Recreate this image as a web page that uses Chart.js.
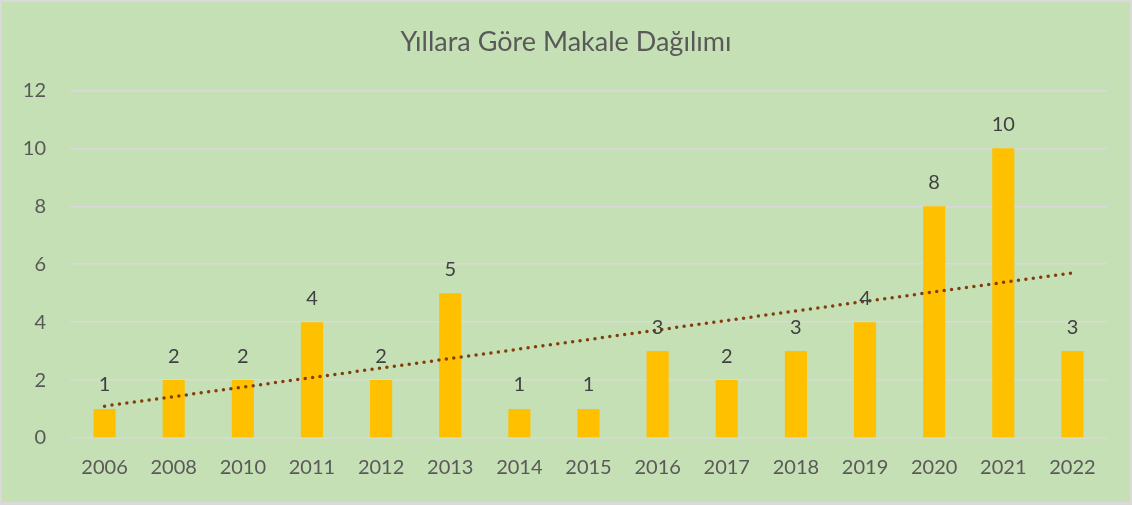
<!DOCTYPE html>
<html lang="tr">
<head>
    <meta charset="UTF-8">
    <title>Yıllara Göre Makale Dağılımı</title>
    <script src="https://cdn.jsdelivr.net/npm/chart.js"></script>
    <style>
        html, body { margin: 0; padding: 0; background: #ffffff; }
        .chart-box { position: relative; width: 1132px; height: 505px; }
    </style>
</head>
<body>
    <div class="chart-box">
        <canvas id="yearChart" width="1132" height="505"></canvas>
    </div>

    <script>
        // Data
        const years = ['2006', '2008', '2010', '2011', '2012', '2013', '2014', '2015', '2016', '2017', '2018', '2019', '2020', '2021', '2022'];
        const articleCounts = [1, 2, 2, 4, 2, 5, 1, 1, 3, 2, 3, 4, 8, 10, 3];
        // linear trend line: only its two ends
        const trendEnds = [1.1, null, null, null, null, null, null, null, null, null, null, null, null, null, 5.7];
        const yTicks = [0, 2, 4, 6, 8, 10, 12];

        const textGrey = '#595959';
        const fontName = 'Lato, "Open Sans", sans-serif';

        // green panel with thin grey frame
        const panelBackground = {
            id: 'panelBackground',
            beforeDraw(chart) {
                const ctx = chart.ctx;
                ctx.save();
                ctx.fillStyle = '#d9d9d9';
                ctx.fillRect(0, 0, chart.width, chart.height);
                ctx.fillStyle = '#c5e0b4';
                ctx.fillRect(2, 2, chart.width - 4, chart.height - 5);
                ctx.restore();
            }
        };

        // value labels above each bar
        const barLabels = {
            id: 'barLabels',
            afterDatasetsDraw(chart) {
                const ctx = chart.ctx;
                const meta = chart.getDatasetMeta(0);
                ctx.save();
                ctx.fillStyle = '#404040';
                ctx.font = '20px ' + fontName;
                ctx.textAlign = 'center';
                ctx.textBaseline = 'middle';
                meta.data.forEach((bar, i) => {
                    ctx.fillText(String(articleCounts[i]), bar.x, bar.y - 24);
                });
                ctx.restore();
            }
        };

        new Chart(document.getElementById('yearChart'), {
            data: {
                labels: years,
                datasets: [
                    {
                        type: 'bar',
                        label: 'Makale',
                        data: articleCounts,
                        backgroundColor: '#ffc000',
                        barPercentage: 0.32,
                        categoryPercentage: 1,
                        order: 2
                    },
                    {
                        type: 'line',
                        label: 'Trend',
                        data: trendEnds,
                        spanGaps: true,
                        borderColor: '#843c0c',
                        borderWidth: 3.5,
                        borderDash: [0, 7.5],
                        borderCapStyle: 'round',
                        pointRadius: 0,
                        fill: false,
                        order: 1
                    }
                ]
            },
            options: {
                responsive: false,
                animation: false,
                layout: { padding: 0 },
                plugins: {
                    legend: { display: false },
                    tooltip: { enabled: false },
                    title: {
                        display: true,
                        text: 'Yıllara Göre Makale Dağılımı',
                        color: textGrey,
                        font: { family: fontName, size: 27, weight: 'normal' },
                        padding: { top: 26, bottom: 32 }
                    }
                },
                scales: {
                    x: {
                        grid: { display: false },
                        border: { display: false },
                        ticks: {
                            color: textGrey,
                            font: { family: fontName, size: 20 },
                            padding: 10,
                            maxRotation: 0
                        },
                        afterFit(scale) { scale.height = 505 - 438; }
                    },
                    y: {
                        min: 0,
                        max: 12,
                        afterBuildTicks(scale) { scale.ticks = yTicks.map(v => ({ value: v })); },
                        grid: { color: '#d9d9d9', lineWidth: 1.5, drawTicks: false },
                        border: { display: false },
                        ticks: {
                            color: textGrey,
                            font: { family: fontName, size: 20 },
                            padding: 24
                        },
                        afterFit(scale) { scale.width = 70; }
                    },
                    // empty right margin so the title stays centred on the panel
                    yRight: {
                        position: 'right',
                        min: 0,
                        max: 12,
                        grid: { display: false },
                        border: { display: false },
                        ticks: { display: false },
                        afterFit(scale) { scale.width = 25; }
                    }
                }
            },
            plugins: [panelBackground, barLabels]
        });
    </script>
</body>
</html>
